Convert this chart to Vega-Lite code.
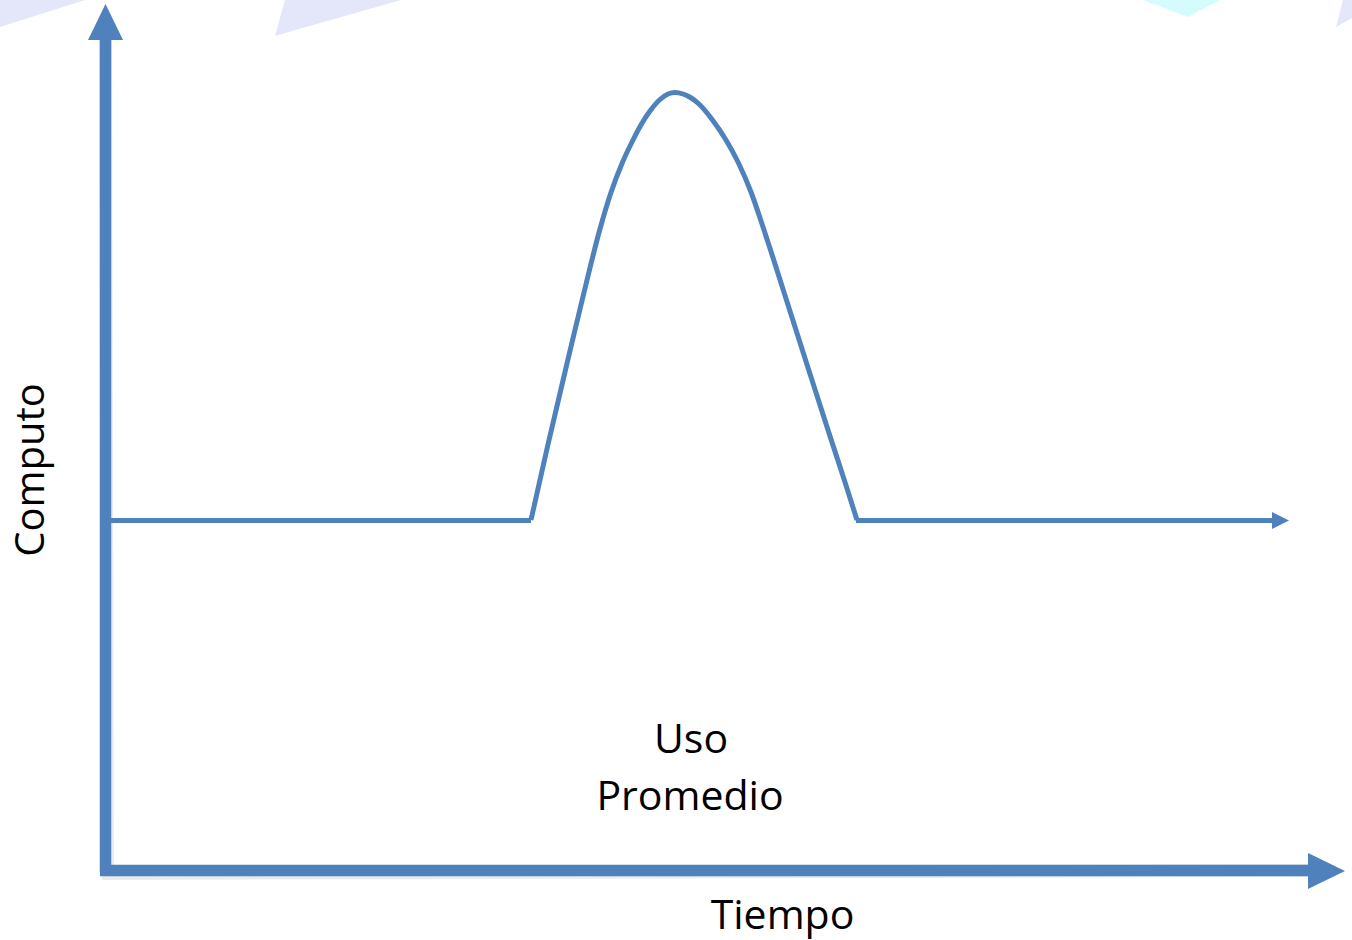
{
  "$schema": "https://vega.github.io/schema/vega-lite/v6.json",
  "width": 1352,
  "height": 940,
  "padding": 0,
  "autosize": "none",
  "background": "white",
  "config": {"view": {"stroke": null}},
  "layer": [
    {
      "data": {"values": [
        {"shape": "a", "x": 0, "y": 940, "y2": 913},
        {"shape": "a", "x": 85, "y": 940, "y2": 940},
        {"shape": "b", "x": 275, "y": 904, "y2": 904},
        {"shape": "b", "x": 285, "y": 940, "y2": 907},
        {"shape": "b", "x": 401, "y": 940, "y2": 940},
        {"shape": "d", "x": 1336, "y": 913, "y2": 913},
        {"shape": "d", "x": 1343, "y": 940, "y2": 917},
        {"shape": "d", "x": 1352, "y": 940, "y2": 922}
      ]},
      "mark": {"type": "area", "color": "#e4e6fa", "interpolate": "linear"},
      "encoding": {
        "detail": {"field": "shape", "type": "nominal"},
        "x": {"field": "x", "type": "quantitative", "scale": {"domain": [0, 1352], "nice": false, "zero": false}, "axis": null},
        "y": {"field": "y", "type": "quantitative", "scale": {"domain": [0, 940], "nice": false, "zero": false}, "axis": null},
        "y2": {"field": "y2"}
      }
    },
    {
      "data": {"values": [
        {"shape": "c", "x": 1143, "y": 940, "y2": 940},
        {"shape": "c", "x": 1188, "y": 940, "y2": 923},
        {"shape": "c", "x": 1220, "y": 940, "y2": 940}
      ]},
      "mark": {"type": "area", "color": "#d6fbfd", "interpolate": "linear"},
      "encoding": {
        "detail": {"field": "shape", "type": "nominal"},
        "x": {"field": "x", "type": "quantitative", "axis": null},
        "y": {"field": "y", "type": "quantitative", "axis": null},
        "y2": {"field": "y2"}
      }
    },
    {
      "data": {"values": [
        {"axis": "Computo", "x": 105.5, "y": 68, "x2": 105.5, "y2": 901},
        {"axis": "Tiempo", "x": 100, "y": 69.5, "x2": 1310, "y2": 69.5}
      ]},
      "layer": [
        {
          "mark": {"type": "rule", "color": "#000000", "opacity": 0.08, "strokeWidth": 13, "strokeCap": "butt", "xOffset": 2, "yOffset": 3}
        },
        {
          "mark": {"type": "rule", "color": "#4f81bd", "strokeWidth": 11.5, "strokeCap": "butt"}
        }
      ],
      "encoding": {
        "x": {"field": "x", "type": "quantitative", "axis": null},
        "y": {"field": "y", "type": "quantitative", "axis": null},
        "x2": {"field": "x2"},
        "y2": {"field": "y2"}
      }
    },
    {
      "data": {"values": [
        {"x": 88, "y": 900, "y2": 900},
        {"x": 105.5, "y": 936, "y2": 900},
        {"x": 123, "y": 900, "y2": 900}
      ]},
      "mark": {"type": "area", "color": "#4f81bd", "interpolate": "linear"},
      "encoding": {
        "x": {"field": "x", "type": "quantitative", "axis": null},
        "y": {"field": "y", "type": "quantitative", "axis": null},
        "y2": {"field": "y2"}
      }
    },
    {
      "data": {"values": [
        {"y": 51, "x": 1308, "x2": 1308},
        {"y": 69, "x": 1308, "x2": 1345},
        {"y": 87, "x": 1308, "x2": 1308}
      ]},
      "mark": {"type": "area", "orient": "horizontal", "color": "#4f81bd", "interpolate": "linear"},
      "encoding": {
        "y": {"field": "y", "type": "quantitative", "axis": null},
        "x": {"field": "x", "type": "quantitative", "axis": null},
        "x2": {"field": "x2"}
      }
    },
    {
      "data": {"values": [
        {"seg": "antes", "x": 110, "y": 419.5, "x2": 531, "y2": 419.5},
        {"seg": "despues", "x": 856, "y": 419.5, "x2": 1274, "y2": 419.5}
      ]},
      "mark": {"type": "rule", "color": "#4f81bd", "strokeWidth": 5, "strokeCap": "butt"},
      "encoding": {
        "x": {"field": "x", "type": "quantitative", "axis": null},
        "y": {"field": "y", "type": "quantitative", "axis": null},
        "x2": {"field": "x2"},
        "y2": {"field": "y2"}
      }
    },
    {
      "data": {"values": [
        {"x": 531, "y": 420},
        {"x": 547.4, "y": 493},
        {"x": 567.1, "y": 577},
        {"x": 582.9, "y": 643},
        {"x": 599.7, "y": 710},
        {"x": 610.8, "y": 747},
        {"x": 622.2, "y": 777},
        {"x": 633, "y": 800},
        {"x": 641.5, "y": 816},
        {"x": 650, "y": 829},
        {"x": 660, "y": 840.5},
        {"x": 668, "y": 846},
        {"x": 675, "y": 847.5},
        {"x": 683, "y": 846},
        {"x": 690.5, "y": 842.5},
        {"x": 699, "y": 836},
        {"x": 712.5, "y": 820},
        {"x": 726, "y": 800},
        {"x": 738, "y": 778},
        {"x": 751, "y": 748},
        {"x": 764, "y": 710},
        {"x": 785.5, "y": 643},
        {"x": 806.5, "y": 577},
        {"x": 828, "y": 510},
        {"x": 844.3, "y": 460},
        {"x": 857, "y": 420}
      ]},
      "mark": {"type": "line", "color": "#4f81bd", "strokeWidth": 5, "interpolate": "monotone", "strokeCap": "butt"},
      "encoding": {
        "x": {"field": "x", "type": "quantitative", "axis": null},
        "y": {"field": "y", "type": "quantitative", "axis": null}
      }
    },
    {
      "data": {"values": [
        {"y": 411, "x": 1272, "x2": 1272},
        {"y": 419.5, "x": 1272, "x2": 1289},
        {"y": 428, "x": 1272, "x2": 1272}
      ]},
      "mark": {"type": "area", "orient": "horizontal", "color": "#4f81bd", "interpolate": "linear"},
      "encoding": {
        "y": {"field": "y", "type": "quantitative", "axis": null},
        "x": {"field": "x", "type": "quantitative", "axis": null},
        "x2": {"field": "x2"}
      }
    },
    {
      "data": {"values": [
        {"label": "Uso", "x": 691, "y": 187},
        {"label": "Promedio", "x": 690, "y": 130},
        {"label": "Tiempo", "x": 782.5, "y": 11}
      ]},
      "mark": {"type": "text", "font": "Open Sans", "fontSize": 41, "color": "#000000", "align": "center", "baseline": "alphabetic"},
      "encoding": {
        "x": {"field": "x", "type": "quantitative", "axis": null},
        "y": {"field": "y", "type": "quantitative", "axis": null},
        "text": {"field": "label"}
      }
    },
    {
      "data": {"values": [
        {"label": "Computo", "x": 44, "y": 470}
      ]},
      "mark": {"type": "text", "font": "Open Sans", "fontSize": 40, "color": "#000000", "align": "center", "baseline": "alphabetic", "angle": 270},
      "encoding": {
        "x": {"field": "x", "type": "quantitative", "axis": null},
        "y": {"field": "y", "type": "quantitative", "axis": null},
        "text": {"field": "label"}
      }
    }
  ]
}
